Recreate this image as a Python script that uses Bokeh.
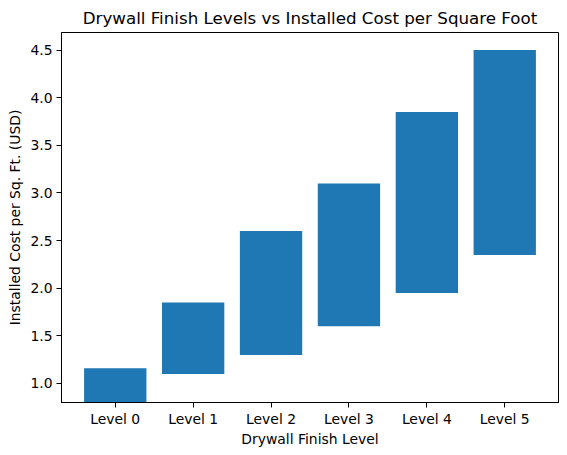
from bokeh.plotting import figure
from bokeh.models import FactorRange, Range1d, FixedTicker, PrintfTickFormatter
from bokeh.embed import file_html
from bokeh.resources import INLINE

levels = ["Level 0", "Level 1", "Level 2", "Level 3", "Level 4", "Level 5"]
cost_low = [0.80, 1.10, 1.30, 1.60, 1.95, 2.35]
cost_high = [1.16, 1.85, 2.60, 3.10, 3.85, 4.50]
y_ticks = [1.0, 1.5, 2.0, 2.5, 3.0, 3.5, 4.0, 4.5]

FONT = "DejaVu Sans"

p = figure(
    x_range=FactorRange(*levels, range_padding=0.19, range_padding_units="absolute"),
    y_range=Range1d(0.8, 4.685),
    frame_width=497, frame_height=370,
    min_border_left=61, min_border_right=2, min_border_top=32, min_border_bottom=45,
    output_backend="svg", toolbar_location=None,
    title="Drywall Finish Levels vs Installed Cost per Square Foot",
)
p.vbar(x=levels, bottom=cost_low, top=cost_high, width=0.8,
       fill_color="#1f77b4", line_color=None)

p.title.align = "center"
p.title.text_font = FONT
p.title.text_font_size = "16.7px"
p.title.text_font_style = "normal"
p.title.text_color = "black"

p.xgrid.visible = False
p.ygrid.visible = False
p.outline_line_color = "black"
p.outline_line_alpha = 1.0
p.outline_line_width = 1

p.yaxis.ticker = FixedTicker(ticks=y_ticks)
p.yaxis.formatter = PrintfTickFormatter(format="%.1f")
p.xaxis.axis_label = "Drywall Finish Level"
p.yaxis.axis_label = "Installed Cost per Sq. Ft. (USD)"

for ax in (p.xaxis[0], p.yaxis[0]):
    ax.axis_label_text_font = FONT
    ax.axis_label_text_font_size = "13.9px"
    ax.axis_label_text_font_style = "normal"
    ax.axis_label_text_color = "black"
    ax.major_label_text_font = FONT
    ax.major_label_text_font_size = "13.9px"
    ax.major_label_text_color = "black"
    ax.major_tick_in = 0
    ax.major_tick_out = 5
    ax.minor_tick_in = 0
    ax.minor_tick_out = 0
    ax.major_label_standoff = 4
    ax.axis_label_standoff = 4
    ax.axis_line_color = "black"
    ax.major_tick_line_color = "black"

p.xaxis[0].major_label_standoff = 3
p.xaxis[0].axis_label_standoff = 1

open("out.html", "w").write(file_html(p, INLINE))
